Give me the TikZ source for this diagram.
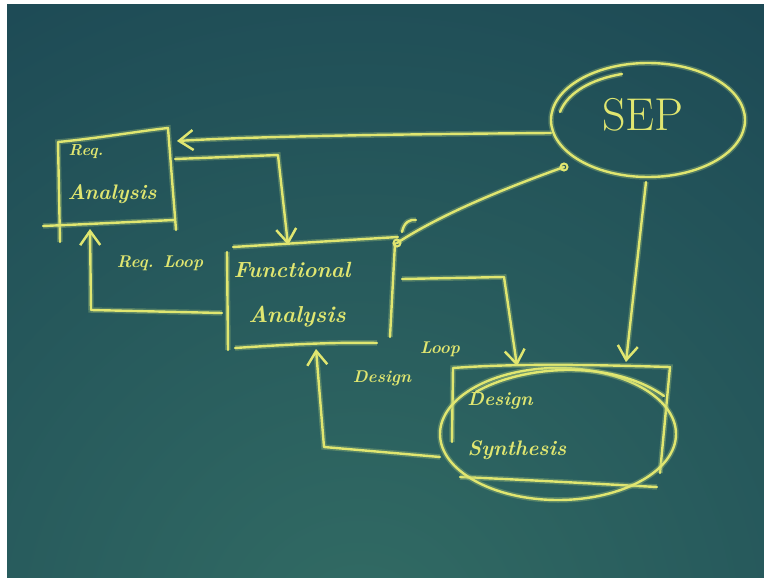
\documentclass[tikz,border=0pt]{standalone}
\usetikzlibrary{arrows.meta,shapes.geometric}
\definecolor{chalk}{RGB}{224,230,112}
\definecolor{glow}{RGB}{165,195,120}
\definecolor{bgin}{RGB}{50,108,100}
\definecolor{bgout}{RGB}{22,62,80}
\tikzset{
  glowpre/.style={preaction={draw=glow, draw opacity=0.35, line width=5.5pt}},
  chalkline/.style={draw=chalk, line width=2.4pt, line cap=round, line join=round, glowpre},
  tip/.style={-{Straight Barb[length=14pt,width=20pt,line width=2.4pt]}},
  handtext/.style={text=chalk, inner sep=0pt},
  chalkell/.style={ellipse, draw=chalk, line width=2.4pt, glowpre, inner sep=0pt},
  dot/.style={circle, draw=chalk, line width=2pt, minimum size=7pt, inner sep=0pt},
}
\begin{document}
\begin{tikzpicture}[x=1pt,y=-1pt]
\useasboundingbox (0,0) rectangle (764,578);
% background
\fill[bgout] (0,0) rectangle (764,578);
\begin{scope}
  \clip (0,0) rectangle (764,578);
  \shade[inner color=bgin, outer color=bgout] (360,640) circle (1000);
\end{scope}
\fill[white] (0,0) rectangle (7,578);
\fill[white] (0,0) rectangle (764,4);

% ---------- Req. Analysis box ----------
\coordinate (ratl) at (58,142);
\coordinate (ratr) at (168,128);
\coordinate (rabl) at (60,242);
\coordinate (rabr) at (176,230);
\coordinate (rabL) at (43,226);
\coordinate (rabR) at (174,220);
\draw[chalkline] (rabl) -- (ratl) .. controls (100,138) and (140,131) .. (ratr) -- (rabr);
\draw[chalkline] (rabL) .. controls (90,224) and (130,222) .. (rabR);
\node[handtext, font=\bfseries\itshape\fontsize{16}{16}\selectfont] (req) at (86,152) {Req.};
\node[handtext, font=\bfseries\itshape\fontsize{21}{21}\selectfont] (ana1) at (112,194) {Analysis};

% ---------- SEP ----------
\node[chalkell, minimum width=194pt, minimum height=114pt] (sep) at (648,120) {};
\node[handtext, font=\fontsize{46}{46}\selectfont] (septext) at (643,115) {SEP};
\draw[chalkline] (560,112) .. controls (568,92) and (592,79) .. (622,74);

% ---------- Functional Analysis box ----------
\coordinate (fatl) at (233,247);
\coordinate (fatr) at (398,237);
\coordinate (fal1) at (227,252);
\coordinate (fal2) at (228,350);
\coordinate (far1) at (395,243);
\coordinate (far2) at (390,337);
\coordinate (fab1) at (235,348);
\coordinate (fab2) at (377,343);
\draw[chalkline] (fatl) -- (fatr);
\draw[chalkline] (fal1) -- (fal2);
\draw[chalkline] (far1) -- (far2);
\draw[chalkline] (fab1) .. controls (280,345) and (330,342) .. (fab2);
\node[handtext, font=\bfseries\itshape\fontsize{22}{22}\selectfont] (func) at (292,270) {Functional};
\node[handtext, font=\bfseries\itshape\fontsize{23}{23}\selectfont] (ana2) at (297,317) {Analysis};

% ---------- Design Synthesis ----------
\coordinate (dstl) at (453,368);
\coordinate (dstr) at (670,367);
\coordinate (dsl2) at (452,442);
\coordinate (dsr2) at (660,473);
\coordinate (dsb1) at (460,477);
\coordinate (dsb2) at (657,487);
\draw[chalkline] (dsl2) -- (dstl) .. controls (520,363) and (600,365) .. (dstr) -- (dsr2);
\draw[chalkline] (dsb1) .. controls (530,480) and (600,484) .. (dsb2);
\node[chalkell, minimum width=236pt, minimum height=132pt] (ds) at (558,434) {};
\draw[chalkline] (476,392) .. controls (520,366) and (610,358) .. (664,396);
\node[handtext, font=\bfseries\itshape\fontsize{19}{19}\selectfont] (design) at (500,401) {Design};
\node[handtext, font=\bfseries\itshape\fontsize{21}{21}\selectfont] (synth) at (517,450) {Synthesis};

% ---------- connectors ----------
\coordinate (sepW) at (551,133);
\coordinate (raE) at (177,141);
\draw[chalkline, tip] (sepW) .. controls (420,134) and (260,136) .. (raE);

\coordinate (raR) at (175,159);
\coordinate (faT) at (288,245);
\draw[chalkline, tip] (raR) -- (278,155) -- (faT);

\coordinate (faL) at (222,313);
\coordinate (raB) at (90,229);
\draw[chalkline, tip] (faL) -- (91,310) -- (raB);
\node[handtext, font=\bfseries\itshape\fontsize{17}{17}\selectfont] (reqloop) at (160,263) {Req. Loop};

\coordinate (sepSW) at (564,167);
\coordinate (faNE) at (397,243);
\draw[chalkline] (sepSW) .. controls (500,190) and (440,215) .. (faNE);
\node[dot] (dot1) at (sepSW) {};
\node[dot] (dot2) at (faNE) {};
\draw[chalkline] (402,232) .. controls (404,222) and (410,219) .. (416,220);

\coordinate (sepS) at (646,182);
\coordinate (dsT) at (626,362);
\draw[chalkline, tip] (sepS) -- (dsT);

\coordinate (faR) at (402,279);
\coordinate (dsT2) at (517,366);
\draw[chalkline, tip] (faR) -- (504,277) -- (dsT2);

\coordinate (dsL) at (440,457);
\coordinate (faB) at (316,349);
\draw[chalkline, tip] (dsL) -- (324,447) -- (faB);
\node[handtext, font=\bfseries\itshape\fontsize{17}{17}\selectfont] (designw) at (382,378) {Design};
\node[handtext, font=\bfseries\itshape\fontsize{17}{17}\selectfont] (loopw) at (440,349) {Loop};
\end{tikzpicture}
\end{document}
